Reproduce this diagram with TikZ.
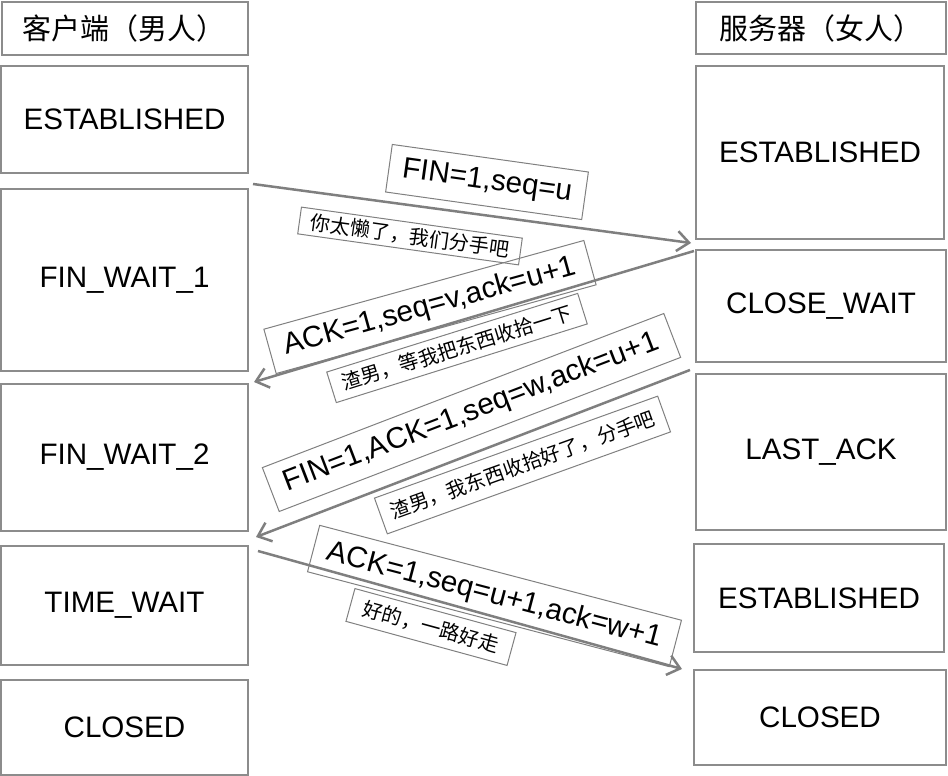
\documentclass[tikz,border=0pt]{standalone}
\usepackage{fontspec}
\setmainfont{Liberation Sans}
\newfontfamily\cjk{Noto Sans CJK SC}
\usetikzlibrary{arrows.meta}
\definecolor{boxgray}{HTML}{8C8C8C}
\definecolor{labgray}{HTML}{808080}
\definecolor{arrgray}{HTML}{7F7F7F}

\begin{document}
\begin{tikzpicture}[x=1pt,y=-1pt,
		state/.style={draw=boxgray,line width=2pt,inner sep=0pt,font=\fontsize{29.6}{34}\selectfont},
		head/.style={state,font=\cjk\fontsize{29}{33}\selectfont},
		msg/.style={draw=labgray,line width=1pt,inner sep=0pt,font=\fontsize{29.6}{34}\selectfont},
		note/.style={draw=labgray,line width=1pt,inner sep=0pt,font=\cjk\fontsize{20}{24}\selectfont},
		flow/.style={draw=arrgray,line width=2.5pt,-{Straight Barb[length=12pt,width=20pt,line width=2.5pt]}}]
	\useasboundingbox (0,0) rectangle (948,776);
	% client side
	\node[head,minimum width=246pt,minimum height=53pt] (c_head) at (124.5,28.5) {客户端（男人）};
	\node[state,minimum width=247pt,minimum height=107pt] (c_est) at (124.5,119.5) {ESTABLISHED};
	\node[state,minimum width=247pt,minimum height=182pt] (c_fw1) at (124.5,280) {FIN\_WAIT\_1};
	\node[state,minimum width=247pt,minimum height=147pt] (c_fw2) at (124.5,457.5) {FIN\_WAIT\_2};
	\node[state,minimum width=247pt,minimum height=119pt] (c_tw) at (124.5,605.5) {TIME\_WAIT};
	\node[state,minimum width=247pt,minimum height=95pt] (c_closed) at (124.5,727.5) {CLOSED};
	% server side
	\node[head,minimum width=250pt,minimum height=52pt] (s_head) at (821,28) {服务器（女人）};
	\node[state,minimum width=248pt,minimum height=173pt] (s_est) at (820,152.5) {ESTABLISHED};
	\node[state,minimum width=250pt,minimum height=112pt] (s_cw) at (821,306) {CLOSE\_WAIT};
	\node[state,minimum width=250pt,minimum height=156pt] (s_la) at (821,452) {LAST\_ACK};
	\node[state,minimum width=250pt,minimum height=108pt] (s_est2) at (819,598) {ESTABLISHED};
	\node[state,minimum width=252pt,minimum height=95pt] (s_closed) at (820,717.5) {CLOSED};
	% messages
	\node[msg,rotate=-8,minimum width=198pt,minimum height=48pt] (m_fin) at (487,182) {FIN=1,seq=u};
	\node[note,rotate=-8,minimum width=223pt,minimum height=27pt] (n_fin) at (410,236) {你太懒了，我们分手吧};
	\node[msg,rotate=15.5,minimum width=332pt,minimum height=46pt] (m_ack) at (430,307) {ACK=1,seq=v,ack=u+1};
	\node[note,rotate=17.4,minimum width=263pt,minimum height=32pt] (n_ack) at (457,348) {渣男，等我把东西收拾一下};
	\node[msg,rotate=21,minimum width=430pt,minimum height=47pt] (m_finack) at (471.5,412.5) {FIN=1,ACK=1,seq=w,ack=u+1};
	\node[note,rotate=19.8,minimum width=301pt,minimum height=38pt] (n_finack) at (522.5,465) {渣男，我东西收拾好了，分手吧};
	\node[msg,rotate=-14.7,minimum width=374pt,minimum height=48pt] (m_last) at (494.5,596) {ACK=1,seq=u+1,ack=w+1};
	\node[note,rotate=-15.3,minimum width=167pt,minimum height=34pt] (n_last) at (431,627) {好的，一路好走};
	% arrow ends
	\coordinate (p1) at (253,184);
	\coordinate (q1) at (691,243);
	\coordinate (p2) at (694,251);
	\coordinate (q2) at (254,382);
	\coordinate (p3) at (690,370);
	\coordinate (q3) at (256,537);
	\coordinate (p4) at (258,551);
	\coordinate (q4) at (682,669);
	\draw[flow] (p1) -- (q1);
	\draw[flow] (p2) -- (q2);
	\draw[flow] (p3) -- (q3);
	\draw[flow] (p4) -- (q4);
\end{tikzpicture}
\end{document}
